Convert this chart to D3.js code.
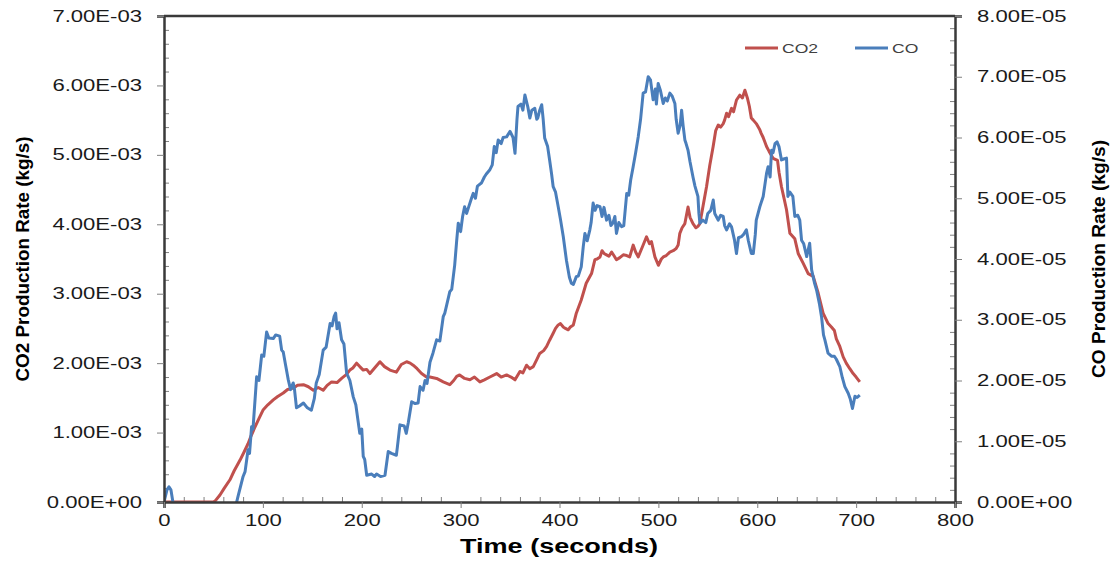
<!DOCTYPE html>
<html>
<head>
<meta charset="utf-8">
<script src="https://cdn.jsdelivr.net/npm/d3@7"></script>
<style>
  body { margin: 0; background: #fff; }
  text { font-family: "Liberation Sans", Arial, sans-serif; }
</style>
</head>
<body>
<div id="canvas"></div>
<script>
// Chart size and plot box
const width = 1116;
const height = 561;
const margin = {left: 164, right: 161, top: 16, bottom: 59};
const stretchK = 1.38; // the source picture is horizontally stretched

// CO2 production rate, value in units of 1E-03 kg/s
const co2Time = [0, 5, 50, 52, 56.6, 61, 66.7, 71, 76.8, 81, 85, 88, 92, 96, 100.4, 105, 110.5, 115, 120.6, 125,
  130.7, 135, 141, 146, 151, 156, 161, 165, 169.5, 175, 179.6, 184, 188, 191, 194.8, 198, 201.5, 205, 208.3, 213,
  218.4, 223, 228.5, 235, 240, 245.4, 249, 252, 256, 260.5, 265.5, 269, 275.7, 282.4, 289, 293, 296, 299, 304, 309.4,
  314, 319.5, 324, 329.6, 336.4, 341, 346.5, 351, 355, 360, 363, 366.7, 370, 373.5, 377, 380, 384, 387, 390, 393.6,
  396, 398.7, 401, 403.8, 406, 408.8, 411, 414, 417, 422, 427, 432.4, 435.8, 438, 441, 443, 445, 447.6, 450, 452.7,
  455, 457.6, 461, 464.5, 468, 471, 474.5, 477, 479.6, 484, 488, 491, 493, 496.5, 500, 503, 505, 508, 511.6, 515,
  518, 520, 521.7, 524, 526.8, 530, 532, 535, 538, 540, 542, 545, 548.7, 552, 555.4, 558, 560.5, 563, 565.6, 567,
  569, 571, 574, 576, 579, 582.4, 585, 587.5, 590, 592, 594, 596, 599, 602.6, 604, 606, 609.4, 612, 616, 620.5,
  622, 624.5, 627, 629.6, 633, 638, 641.4, 646.4, 651.5, 656.6, 661.6, 666.6, 671.7, 675, 678, 680, 683.5, 686.9,
  690, 693.6, 697, 700, 703.7];
const co2Rate = [0, 0, 0, 0.02, 0.10, 0.20, 0.32, 0.45, 0.60, 0.72, 0.84, 0.95, 1.08, 1.20, 1.33, 1.40, 1.47, 1.52, 1.57, 1.62,
  1.64, 1.68, 1.69, 1.66, 1.61, 1.65, 1.61, 1.68, 1.73, 1.72, 1.78, 1.83, 1.90, 1.93, 2.00, 1.95, 1.90, 1.91, 1.85, 1.93,
  2.02, 1.95, 1.90, 1.87, 1.98, 2.02, 2.00, 1.97, 1.92, 1.85, 1.80, 1.80, 1.78, 1.73, 1.69, 1.75, 1.81, 1.83, 1.78, 1.76,
  1.80, 1.73, 1.76, 1.80, 1.85, 1.80, 1.83, 1.80, 1.76, 1.88, 1.86, 1.97, 1.92, 1.95, 2.05, 2.14, 2.18, 2.24, 2.33, 2.43,
  2.50, 2.55, 2.57, 2.52, 2.50, 2.48, 2.52, 2.55, 2.72, 2.91, 3.15, 3.29, 3.49, 3.50, 3.53, 3.62, 3.58, 3.56, 3.54, 3.60,
  3.55, 3.49, 3.52, 3.56, 3.55, 3.53, 3.70, 3.60, 3.53, 3.68, 3.82, 3.72, 3.75, 3.53, 3.41, 3.50, 3.53, 3.55, 3.60, 3.62,
  3.65, 3.70, 3.87, 3.95, 4.01, 4.25, 4.10, 4.01, 3.95, 3.97, 4.01, 4.25, 4.54, 4.85, 5.12, 5.35, 5.43, 5.40, 5.45, 5.50,
  5.60, 5.55, 5.67, 5.62, 5.79, 5.86, 5.82, 5.93, 5.82, 5.70, 5.53, 5.50, 5.45, 5.36, 5.31, 5.25, 5.12, 5.05, 4.95, 4.92,
  4.75, 4.54, 4.38, 4.21, 3.87, 3.79, 3.58, 3.44, 3.29, 3.25, 3.01, 2.72, 2.57, 2.52, 2.47, 2.35, 2.24, 2.09,
  2.00, 1.92, 1.85, 1.80, 1.73];

// CO production rate, value in units of 1E-05 kg/s (negative = below the axis, clipped)
const coTime = [0, 3, 5, 7, 9, 12, 72, 75, 80, 82, 85, 86.5, 88.6, 90, 93.7, 96, 98.8, 101, 103.8, 106, 110.5, 113, 117, 119,
  120.6, 123, 125.7, 128, 130.7, 132, 134, 137, 141, 145, 149, 152, 154, 157, 161, 164, 168, 170, 172, 173.6, 175, 177,
  179.6, 182, 184.7, 188, 191.4, 194, 198, 200, 201.5, 203, 205, 210, 213, 215, 219, 223.5, 226.8, 230, 235, 236, 238.6,
  243, 245, 247, 250.5, 254, 257, 259, 262, 264, 266, 269, 272, 275.7, 279, 282.4, 284, 286, 289, 291, 294, 296, 297.6,
  300, 302, 304, 306, 308, 311, 312.7, 315, 317, 321, 324, 326, 329.6, 332, 334, 336, 338, 341, 343, 346.5, 350, 353,
  355, 357, 358, 361, 363, 365, 368, 370, 372, 375, 377, 378, 380, 382, 383.5, 385, 388, 390, 392, 393.6, 396, 398.7,
  401, 403.8, 407, 410, 412, 414, 417, 419, 422, 424, 425.7, 428, 430.7, 432, 434, 436, 438, 441, 443, 445, 447.6, 450,
  452, 454, 456, 457.6, 460, 462.8, 465, 468, 470, 472, 474.5, 477, 479.6, 482, 484.6, 487, 489.7, 492, 494.7, 497, 498,
  499.8, 502, 504.9, 507, 509, 511.6, 514, 516.7, 518, 520, 522, 523.5, 525, 526.8, 528, 530, 532, 535, 537, 540, 541,
  542, 545, 548, 550, 553, 555.5, 557, 560.5, 563, 565.6, 567, 569, 572, 574, 577, 579, 581, 584, 586, 589, 591, 594,
  596, 598, 599, 602.6, 606, 609.4, 611, 613, 614.5, 616, 618, 620, 622, 624.5, 627.5, 629.6, 631, 633, 636, 638, 641,
  643, 644.8, 647, 650, 653, 655, 658, 660, 663, 665, 667, 668.4, 671.6, 675, 678, 680, 683.5, 686, 688.6, 692, 694,
  696.3, 698.8, 701, 703.7];
const coRate = [0, 0.20, 0.25, 0.20, 0, -0.1, -0.1, 0.10, 0.42, 0.50, 0.86, 0.80, 1.24, 1.20, 2.06, 2.00, 2.42, 2.40, 2.80, 2.70, 2.69, 2.75, 2.73, 2.50,
  2.47, 2.25, 2.01, 1.85, 1.96, 1.85, 1.55, 1.58, 1.63, 1.55, 1.51, 1.70, 1.96, 2.10, 2.50, 2.55, 2.94, 2.90, 3.05, 3.11, 2.85, 2.95,
  2.67, 2.60, 2.12, 2.00, 1.73, 1.60, 1.13, 1.20, 0.75, 0.70, 0.44, 0.46, 0.42, 0.46, 0.42, 0.44, 0.83, 0.80, 0.77, 0.90, 1.27,
  1.25, 1.13, 1.30, 1.65, 1.62, 1.63, 1.90, 1.84, 2.00, 1.95, 2.30, 2.45, 2.67, 2.65, 3.05, 3.11, 3.25, 3.46, 3.50, 3.90, 4.30, 4.59,
  4.45, 4.70, 4.86, 4.75, 4.85, 5.00, 5.08, 5.00, 5.20, 5.25, 5.35, 5.40, 5.47, 5.55, 5.85, 5.75, 5.96, 5.90, 6.00, 6.01, 6.10, 6.00,
  5.74, 6.30, 6.51, 6.55, 6.45, 6.70, 6.50, 6.32, 6.45, 6.48, 6.30, 6.32, 6.45, 6.54, 6.30, 5.99, 5.85, 5.63, 5.40, 5.19, 5.10, 4.86,
  4.65, 4.37, 3.98, 3.70, 3.60, 3.58, 3.71, 3.72, 3.87, 4.20, 4.42, 4.30, 4.48, 4.60, 4.92, 4.80, 4.88, 4.86, 4.70, 4.85, 4.64, 4.72,
  4.55, 4.59, 4.70, 4.42, 4.60, 4.53, 4.55, 5.08, 5.05, 5.30, 5.52, 5.75, 6.01, 6.30, 6.73, 6.75, 7.00, 6.95, 6.62, 6.80, 6.55,
  6.89, 6.78, 6.56, 6.65, 6.60, 6.73, 6.68, 6.56, 6.30, 6.07, 6.20, 6.45, 6.20, 5.96, 5.90, 5.79, 5.60, 5.35, 5.20, 5.03, 4.75,
  4.59, 4.64, 4.60, 4.75, 4.80, 4.97, 4.75, 4.64, 4.72, 4.70, 4.55, 4.48, 4.58, 4.53, 4.31, 4.09, 4.35, 4.37, 4.40, 4.48, 4.30, 4.09,
  4.09, 4.40, 4.64, 4.86, 5.03, 5.41, 5.52, 5.35, 5.79, 5.75, 5.90, 5.93, 5.85, 5.63, 5.65, 5.66, 5.03, 5.10, 5.03, 4.70, 4.72,
  4.64, 4.31, 4.25, 4.04, 4.26, 3.82, 3.60, 3.49, 3.25, 3.05, 2.75, 2.67, 2.45, 2.40, 2.40, 2.35, 2.23, 2.05, 1.90, 1.79, 1.70,
  1.54, 1.74, 1.72, 1.76];

const xTicks = [0, 100, 200, 300, 400, 500, 600, 700, 800];
const leftTicks = [0, 1, 2, 3, 4, 5, 6, 7];
const rightTicks = [0, 1, 2, 3, 4, 5, 6, 7, 8];
const seriesNames = ["CO2", "CO"];
const colors = {co2: "#C0504D", co: "#4A7EBB", axis: "#3a3a3a", tick: "#808080", label: "#1a1a1a"};

const co2Data = co2Time.map((t, i) => ({t: t, v: co2Rate[i]}));
const coData = coTime.map((t, i) => ({t: t, v: coRate[i]}));

const plotW = width - margin.left - margin.right;
const plotH = height - margin.top - margin.bottom;

const x = d3.scaleLinear().domain([0, 800]).range([0, plotW]);
const yL = d3.scaleLinear().domain([0, 7]).range([plotH, 0]);
const yR = d3.scaleLinear().domain([0, 8]).range([plotH, 0]);

const fmt = (d, exp) => d === 0 ? "0.00E+00" : d.toFixed(2) + exp;

let svg = d3.select('#canvas').append('svg')
  .attr('width', width)
  .attr('height', height);

let g = svg.append('g').attr('transform', `translate(${margin.left},${margin.top})`);

g.append('clipPath').attr('id', 'plotClip')
  .append('rect').attr('x', 0).attr('y', 0).attr('width', plotW).attr('height', plotH);

// minor ticks (inside)
const minorL = d3.range(0, 7.001, 0.2).filter(v => Math.abs(v - Math.round(v)) > 1e-6);
const minorR = d3.range(0, 8.001, 0.2).filter(v => Math.abs(v - Math.round(v)) > 1e-6);
const minorX = d3.range(0, 800.1, 20).filter(v => v % 100 !== 0);

g.append('g').call(d3.axisLeft(yL).tickValues(minorL).tickSize(-5).tickFormat(''))
  .call(a => a.select('.domain').remove())
  .selectAll('line').attr('stroke', colors.tick);
g.append('g').attr('transform', `translate(${plotW},0)`)
  .call(d3.axisRight(yR).tickValues(minorR).tickSize(-5).tickFormat(''))
  .call(a => a.select('.domain').remove())
  .selectAll('line').attr('stroke', colors.tick);
g.append('g').attr('transform', `translate(0,${plotH})`)
  .call(d3.axisBottom(x).tickValues(minorX).tickSize(-5).tickFormat(''))
  .call(a => a.select('.domain').remove())
  .selectAll('line').attr('stroke', colors.tick);

// series
const line = (yScale) => d3.line().x(d => x(d.t)).y(d => yScale(d.v));

let lines = g.append('g').attr('clip-path', 'url(#plotClip)');
lines.append('path').datum(co2Data)
  .attr('fill', 'none').attr('stroke', colors.co2).attr('stroke-width', 3)
  .attr('stroke-linejoin', 'round').attr('d', line(yL));
lines.append('path').datum(coData)
  .attr('fill', 'none').attr('stroke', colors.co).attr('stroke-width', 3)
  .attr('stroke-linejoin', 'round').attr('d', line(yR));

// major axes
let axL = g.append('g').call(d3.axisLeft(yL).tickValues(leftTicks).tickSize(7).tickPadding(15)
  .tickFormat(d => fmt(d, "E-03")));
let axR = g.append('g').attr('transform', `translate(${plotW},0)`)
  .call(d3.axisRight(yR).tickValues(rightTicks).tickSize(7).tickPadding(15)
  .tickFormat(d => fmt(d, "E-05")));
let axB = g.append('g').attr('transform', `translate(0,${plotH})`)
  .call(d3.axisBottom(x).tickValues(xTicks).tickSize(6).tickPadding(7)
  .tickFormat(d3.format('d')));

[axL, axR, axB].forEach(a => {
  a.select('.domain').attr('stroke', colors.axis).attr('stroke-width', 2.5);
  a.selectAll('.tick line').attr('stroke', colors.tick);
  a.selectAll('.tick text').attr('font-size', 16).attr('fill', colors.label)
    .style('font-family', '"Liberation Sans", Arial, sans-serif');
});

// top border
g.append('line').attr('x1', 0).attr('x2', plotW).attr('y1', 0).attr('y2', 0)
  .attr('stroke', colors.axis).attr('stroke-width', 2.5);

// legend
let legend = g.append('g').attr('transform', `translate(${745 - margin.left},${48 - margin.top})`);
const legendX = [0, 110];
seriesNames.forEach((name, i) => {
  let item = legend.append('g').attr('transform', `translate(${legendX[i]},0)`);
  item.append('line').attr('x1', 0).attr('x2', 33).attr('y1', 0).attr('y2', 0)
    .attr('stroke', i === 0 ? colors.co2 : colors.co).attr('stroke-width', 3);
  item.append('text').attr('x', 37).attr('y', 5).attr('font-size', 13)
    .attr('fill', '#404040').text(name);
});

// axis titles
svg.append('text').attr('class', 'title')
  .attr('transform', `translate(29,${margin.top + plotH / 2}) rotate(-90)`)
  .attr('text-anchor', 'middle').attr('font-weight', 'bold').attr('font-size', 19)
  .attr('textLength', 245).attr('lengthAdjust', 'spacingAndGlyphs')
  .text('CO2 Production Rate (kg/s)');
svg.append('text').attr('class', 'title')
  .attr('transform', `translate(1105,${margin.top + plotH / 2}) rotate(-90)`)
  .attr('text-anchor', 'middle').attr('font-weight', 'bold').attr('font-size', 19)
  .attr('textLength', 238).attr('lengthAdjust', 'spacingAndGlyphs')
  .text('CO Production Rate (kg/s)');
svg.append('text').attr('class', 'title')
  .attr('x', 559).attr('y', 553)
  .attr('text-anchor', 'middle').attr('font-weight', 'bold').attr('font-size', 20)
  .attr('textLength', 198).attr('lengthAdjust', 'spacingAndGlyphs')
  .text('Time (seconds)');

// stretch the remaining text to the source's wide look
function stretch(sel, k) {
  sel.each(function() {
    let w = this.getComputedTextLength();
    d3.select(this).attr('textLength', w * k).attr('lengthAdjust', 'spacingAndGlyphs');
  });
}
stretch(g.selectAll('.tick text'), stretchK);
stretch(legend.selectAll('text'), 1.35);
</script>
</body>
</html>
